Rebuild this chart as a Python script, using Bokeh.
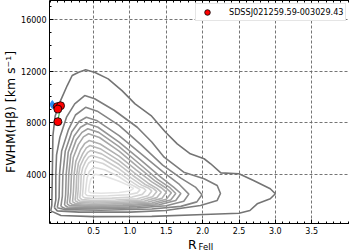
from bokeh.plotting import figure
from bokeh.layouts import column
from bokeh.models import (FixedTicker, PrintfTickFormatter, ColumnDataSource, Range1d,
                          LinearAxis)
from bokeh.core.properties import value
from bokeh.embed import file_html
from bokeh.resources import INLINE

# ---------------- data ----------------
x_ticks = [0.5, 1.0, 1.5, 2.0, 2.5, 3.0, 3.5]
y_ticks = [4000, 8000, 12000, 16000]
x_minor = [round(-0.1 + 0.1 * i, 2) for i in range(42)]
y_minor = [1000 * i for i in range(1, 18)]

# contour lines of the comparison sample (outer -> inner)
contour_xs = [
    [-0.09, -0.075, -0.068, -0.06, -0.03, 0.045, 0.137, 0.205, 0.295, 0.39, 0.52, 0.70, 0.89, 1.07, 1.29, 1.49, 1.65, 1.83, 2.02, 2.11, 2.25, 2.50, 2.70, 2.93, 3.00, 2.93, 2.75, 2.65, 2.50, 2.02, 1.30, 0.50, 0.05, -0.09],
    [-0.04, -0.02, -0.02, -0.01, 0.036, 0.127, 0.24, 0.377, 0.514, 0.787, 1.10, 1.30, 1.47, 1.74, 2.02, 2.20, 2.245, 2.20, 1.97, 1.49, 1.00, 0.30, 0.00, -0.04],
    [0.00, 0.025, 0.031, 0.06, 0.15, 0.25, 0.39, 0.55, 0.85, 1.15, 1.45, 1.70, 1.90, 1.99, 1.92, 1.70, 1.30, 0.60, 0.10, 0.00],
    [0.05, 0.07, 0.077, 0.11, 0.20, 0.30, 0.40, 0.55, 0.85, 1.15, 1.45, 1.68, 1.81, 1.74, 1.50, 1.10, 0.50, 0.10, 0.05],
    [0.10, 0.115, 0.123, 0.15, 0.23, 0.32, 0.41, 0.56, 0.85, 1.15, 1.42, 1.60, 1.70, 1.63, 1.40, 1.00, 0.50, 0.14, 0.10],
    [0.135, 0.15, 0.158, 0.185, 0.26, 0.34, 0.42, 0.57, 0.85, 1.12, 1.38, 1.55, 1.63, 1.56, 1.35, 0.95, 0.50, 0.17, 0.135],
    [0.17, 0.185, 0.195, 0.22, 0.29, 0.36, 0.43, 0.58, 0.85, 1.10, 1.34, 1.49, 1.57, 1.50, 1.30, 0.90, 0.50, 0.21, 0.17],
    [0.21, 0.222, 0.232, 0.255, 0.32, 0.38, 0.44, 0.59, 0.85, 1.08, 1.30, 1.43, 1.50, 1.44, 1.25, 0.88, 0.50, 0.25, 0.21],
    [0.245, 0.258, 0.268, 0.29, 0.35, 0.40, 0.45, 0.60, 0.85, 1.06, 1.25, 1.37, 1.43, 1.37, 1.20, 0.85, 0.50, 0.28, 0.245],
    [0.275, 0.287, 0.295, 0.315, 0.37, 0.42, 0.46, 0.61, 0.85, 1.04, 1.21, 1.32, 1.37, 1.31, 1.15, 0.83, 0.50, 0.31, 0.275],
    [0.31, 0.32, 0.33, 0.35, 0.39, 0.43, 0.47, 0.62, 0.85, 1.02, 1.16, 1.26, 1.30, 1.25, 1.10, 0.80, 0.50, 0.34, 0.31],
    [0.345, 0.355, 0.365, 0.39, 0.43, 0.48, 0.63, 0.85, 1.00, 1.12, 1.19, 1.22, 1.17, 1.03, 0.75, 0.50, 0.38, 0.345],
    [0.385, 0.395, 0.41, 0.44, 0.50, 0.65, 0.85, 0.98, 1.08, 1.14, 1.10, 0.97, 0.70, 0.50, 0.41, 0.385],
    [0.43, 0.44, 0.46, 0.52, 0.66, 0.85, 0.97, 1.05, 1.00, 0.85, 0.60, 0.46, 0.43],
]
contour_ys = [
    [1150, 1600, 4000, 7000, 8500, 9720, 10890, 11670, 11920, 12110, 11900, 11410, 10500, 9470, 8560, 7260, 6360, 5580, 5200, 4810, 4100, 4030, 3510, 2870, 2480, 2090, 1700, 1180, 970, 870, 720, 700, 790, 1150],
    [1400, 2000, 4000, 5500, 6870, 8430, 9470, 10110, 9860, 8950, 7650, 6500, 5320, 4160, 3640, 3120, 2500, 1960, 1570, 1180, 1050, 1050, 1150, 1400],
    [1400, 2200, 4000, 5800, 7400, 8600, 9200, 8900, 7800, 6300, 4700, 3700, 3000, 2400, 1850, 1500, 1300, 1200, 1250, 1400],
    [1500, 2300, 4000, 5800, 7300, 8100, 8430, 8150, 7000, 5600, 4200, 3200, 2450, 1900, 1550, 1380, 1310, 1350, 1500],
    [1600, 2400, 4000, 5700, 6950, 7650, 7940, 7650, 6500, 5100, 3800, 3000, 2500, 1950, 1620, 1460, 1400, 1450, 1600],
    [1700, 2500, 4000, 5500, 6650, 7250, 7530, 7250, 6150, 4850, 3600, 2950, 2500, 2000, 1700, 1560, 1500, 1560, 1700],
    [1780, 2600, 4000, 5300, 6300, 6900, 7140, 6850, 5800, 4600, 3500, 2950, 2550, 2050, 1760, 1630, 1570, 1640, 1780],
    [1850, 2650, 4000, 5000, 5900, 6400, 6620, 6350, 5400, 4350, 3400, 2950, 2600, 2120, 1840, 1710, 1650, 1720, 1850],
    [1950, 2700, 4000, 4850, 5600, 6050, 6230, 5950, 5050, 4100, 3300, 2900, 2600, 2180, 1920, 1800, 1750, 1820, 1950],
    [2050, 2750, 4000, 4650, 5300, 5700, 5840, 5580, 4750, 3900, 3200, 2900, 2650, 2250, 2000, 1900, 1850, 1920, 2050],
    [2150, 2800, 4000, 4500, 5000, 5330, 5450, 5200, 4420, 3700, 3150, 2900, 2700, 2330, 2090, 2000, 1950, 2020, 2150],
    [2280, 2900, 3800, 4400, 4850, 5060, 4830, 4100, 3500, 3050, 2900, 2750, 2430, 2220, 2140, 2100, 2160, 2280],
    [2450, 3000, 3700, 4200, 4540, 4350, 3800, 3300, 3000, 2800, 2550, 2400, 2330, 2300, 2350, 2450],
    [2650, 3100, 3600, 4000, 3850, 3450, 3150, 2900, 2700, 2580, 2520, 2560, 2650],
]

# the object (several epochs)
obj_name = "SDSSJ021259.59-003029.43"
red_x = [0.0, 0.045, 0.008, 0.008]
red_y = [9250, 9320, 9060, 8080]
blue_x = [-0.068]
blue_y = [9410]

x_title_parts = ["R", "FeII"]
y_title = "FWHM(Hβ) [km s⁻¹]"

# ---------------- styling ----------------
FONT = "DejaVu Sans"
contour_colors = ["#747474", "#7c7c7c", "#848484", "#8c8c8c", "#959595", "#9e9e9e",
                  "#a7a7a7", "#b0b0b0", "#b9b9b9", "#c2c2c2", "#cbcbcb", "#d4d4d4",
                  "#dcdcdc", "#e4e4e4"]
X_LO, X_HI = -0.107, 4.02

p = figure(width=349, height=238, output_backend="svg", toolbar_location=None,
           x_range=Range1d(X_LO, X_HI), y_range=Range1d(168, 17500),
           min_border_left=48, min_border_right=0, min_border_top=0,
           min_border_bottom=15)
p.background_fill_color = "white"
p.border_fill_color = "white"
p.outline_line_color = None

bottom_axis = p.below[0]
left_axis = p.left[0]
top_axis = LinearAxis(ticker=FixedTicker(ticks=[], minor_ticks=x_minor))
p.add_layout(top_axis, "above")

for ax in (bottom_axis, left_axis, top_axis):
    ax.major_tick_in = 4
    ax.major_tick_out = 0
    ax.minor_tick_in = 2
    ax.minor_tick_out = 0
    ax.major_tick_line_color = "black"
    ax.minor_tick_line_color = "black"
    ax.axis_line_color = "black"
    ax.major_label_text_font = FONT
    ax.major_label_text_font_size = "8px"
    ax.major_label_text_color = "black"
    ax.major_label_standoff = 3
top_axis.major_label_standoff = 0

bottom_axis.ticker = FixedTicker(ticks=x_ticks, minor_ticks=x_minor)
left_axis.ticker = FixedTicker(ticks=y_ticks, minor_ticks=y_minor)
bottom_axis.formatter = PrintfTickFormatter(format="%.1f")
left_axis.formatter = PrintfTickFormatter(format="%d")

left_axis.axis_label = y_title
left_axis.axis_label_text_font = FONT
left_axis.axis_label_text_font_size = "12.5px"
left_axis.axis_label_text_font_style = "normal"
left_axis.axis_label_text_color = "black"
left_axis.axis_label_standoff = 0

for g in (p.xgrid[0], p.ygrid[0]):
    g.grid_line_color = "#666666"
    g.grid_line_dash = "3 2"
    g.grid_line_width = 1
    g.grid_line_alpha = 0.9
p.xgrid[0].ticker = bottom_axis.ticker
p.ygrid[0].ticker = left_axis.ticker

src = ColumnDataSource(dict(xs=contour_xs, ys=contour_ys, color=contour_colors))
p.multi_line(xs="xs", ys="ys", line_color="color", line_width=1.6, source=src)

p.line(x=[red_x[1], red_x[3]], y=[red_y[1], red_y[3]], line_color="#2ca02c", line_width=1)
p.scatter(blue_x, blue_y, marker="diamond", size=8, fill_color="#2b8cf0",
          line_color="#2b8cf0")
p.scatter(red_x, red_y, marker="circle", size=8, fill_color="red",
          line_color="black", line_width=0.8, legend_label=obj_name)

lg = p.legend[0]
lg.location = (146, 202)
lg.margin = 0
lg.padding = 1
lg.spacing = 0
lg.glyph_width = 20
lg.glyph_height = 14
lg.label_height = 10
lg.label_standoff = 12
lg.label_text_font = FONT
lg.label_text_font_size = "8.1px"
lg.label_text_color = "black"
lg.border_line_color = "#cccccc"
lg.border_line_width = 1
lg.background_fill_alpha = 1

# x-axis title strip (R with subscript FeII)
t = figure(width=349, height=13, output_backend="svg", toolbar_location=None,
           x_range=p.x_range, y_range=Range1d(0, 13),
           min_border_left=48, min_border_right=0, min_border_top=0,
           min_border_bottom=0, x_axis_location=None, y_axis_location=None)
t.outline_line_color = None
t.grid.visible = False
t.text(x=[1.80], y=[7], text=[x_title_parts[0]], text_font=value(FONT),
       text_font_size="12.5px", text_align="left", text_baseline="alphabetic",
       text_color="black")
t.text(x=[1.944], y=[4.6], text=[x_title_parts[1]], text_font=value(FONT),
       text_font_size="8.5px", text_align="left", text_baseline="alphabetic",
       text_color="black")

layout = column(p, t, spacing=0)
open("out.html", "w").write(file_html(layout, INLINE))
